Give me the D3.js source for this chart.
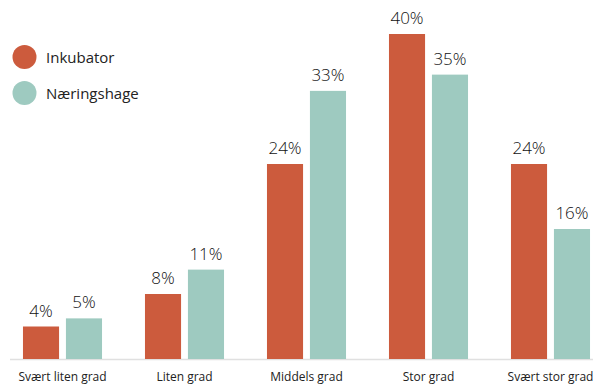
<!DOCTYPE html>
<html>
<head>
<meta charset="utf-8">
<script src="https://cdn.jsdelivr.net/npm/d3@7"></script>
<style>
  html, body { margin: 0; padding: 0; background: #fff; }
  svg { display: block; font-family: "Open Sans", "Noto Sans", sans-serif; }
</style>
</head>
<body>
<svg id="chart" width="593" height="385"></svg>
<script>
const categories = ["Svært liten grad", "Liten grad", "Middels grad", "Stor grad", "Svært stor grad"];
const seriesNames = ["Inkubator", "Næringshage"];
const inkubator = [4, 8, 24, 40, 24];
const naeringshage = [5, 11, 33, 35, 16];
const colors = ["#cc5b3d", "#9ecac0"];

const svg = d3.select("#chart");
const baseline = 359;

const x = d3.scaleBand()
  .domain(categories)
  .range([1.5, 611.5])
  .paddingInner(0.352)
  .paddingOuter(0.176);

const x1 = d3.scaleBand()
  .domain(seriesNames)
  .range([0, x.bandwidth()])
  .paddingInner(0.16);

const y = d3.scaleLinear().domain([0, 40]).range([baseline, 34]);

const rows = categories.map((c, i) => ({
  category: c,
  values: [
    { series: seriesNames[0], value: inkubator[i] },
    { series: seriesNames[1], value: naeringshage[i] }
  ]
}));

// baseline axis
svg.append("line")
  .attr("x1", 10).attr("x2", 593)
  .attr("y1", baseline + 0.5).attr("y2", baseline + 0.5)
  .attr("stroke", "#e0e0e0").attr("stroke-width", 1.5);

const groups = svg.selectAll("g.cat")
  .data(rows)
  .join("g")
  .attr("class", "cat")
  .attr("transform", d => `translate(${x(d.category)},0)`);

groups.selectAll("rect")
  .data(d => d.values)
  .join("rect")
  .attr("x", d => x1(d.series))
  .attr("width", x1.bandwidth())
  .attr("y", d => y(d.value))
  .attr("height", d => baseline - y(d.value))
  .attr("fill", (d, i) => colors[i]);

groups.selectAll("text.val")
  .data(d => d.values)
  .join("text")
  .attr("class", "val")
  .attr("x", d => x1(d.series) + x1.bandwidth() / 2)
  .attr("y", d => y(d.value) - 10)
  .attr("text-anchor", "middle")
  .attr("font-size", 17)
  .attr("font-weight", 300)
  .attr("fill", "#111")
  .text(d => d.value + "%");

// category axis labels
const xAxis = d3.axisBottom(x).tickSize(0).tickPadding(0);
const axisG = svg.append("g")
  .attr("transform", `translate(0,${baseline})`)
  .call(xAxis);
axisG.select(".domain").remove();
axisG.selectAll("text")
  .attr("y", 22)
  .attr("dy", 0)
  .attr("font-size", 12)
  .attr("font-family", "\"Open Sans\", \"Noto Sans\", sans-serif")
  .attr("fill", "#222");

// legend
const legend = svg.append("g");
seriesNames.forEach((name, i) => {
  const cy = 57 + i * 36;
  legend.append("circle")
    .attr("cx", 24.5).attr("cy", cy).attr("r", 12)
    .attr("fill", colors[i]);
  legend.append("text")
    .attr("x", 46).attr("y", cy + 5.5)
    .attr("font-size", 15)
    .attr("fill", "#222")
    .text(name);
});
</script>
</body>
</html>
